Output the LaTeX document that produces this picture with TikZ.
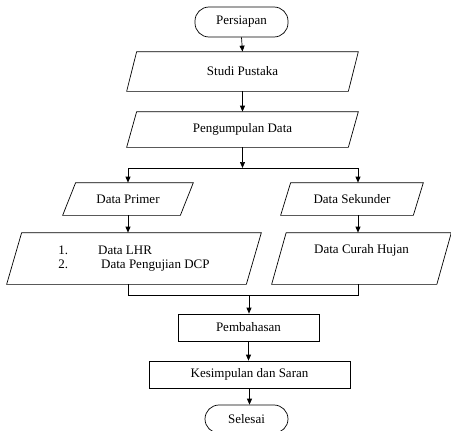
\documentclass[tikz,border=0pt]{standalone}
\usepackage{fontspec}
\setmainfont{Liberation Serif}
\usetikzlibrary{arrows.meta,calc}
\begin{document}
\begin{tikzpicture}[x=1pt,y=-1pt,
  line width=0.7pt,
  every node/.style={font=\fontsize{13}{15}\selectfont, inner sep=0pt},
  arr/.style={-{Triangle[length=6pt,width=5pt]}},
  term/.style={draw, rounded corners=14pt},
  rbox/.style={draw},
  pbox/.style={}]
\useasboundingbox (0,0) rectangle (451,431);
\node[term, minimum width=93pt, minimum height=30pt] (pers) at (241.5,22) {Persiapan};
\node[pbox, minimum width=231pt, minimum height=39pt] (sp) at (242.5,71.5) {Studi Pustaka};
\node[pbox, minimum width=231pt, minimum height=35pt] (pd) at (242.5,129.5) {Pengumpulan Data};
\node[pbox, minimum width=130pt, minimum height=32pt] (dp) at (128,199) {Data Primer};
\node[pbox, minimum width=142pt, minimum height=32pt] (ds) at (352,199) {Data Sekunder};
\node[pbox, minimum width=254pt, minimum height=51pt] (lhr) at (134,258.5)
  {\begin{tabular}{@{}l@{\hspace{30pt}}l@{}}1. & Data LHR\\[-1pt] 2. & \hspace{3pt}Data Pengujian DCP\end{tabular}};
\node[pbox, minimum width=179pt, minimum height=51pt, align=center] (ch) at (361.5,258.5) {Data Curah Hujan\\\strut};
\node[rbox, minimum width=141pt, minimum height=27pt] (pb) at (248.5,327.5) {Pembahasan};
\node[rbox, minimum width=201pt, minimum height=27pt] (ks) at (249.5,374.5) {Kesimpulan dan Saran};
\node[term, minimum width=83pt, minimum height=28pt] (sl) at (246.5,419) {Selesai};
% parallelograms
\foreach \n/\s in {sp/10,pd/10,dp/13,ds/10,lhr/15,ch/14.5}
  \draw ([xshift=\s]\n.north west) -- (\n.north east) -- ([xshift=-\s]\n.south east) -- (\n.south west) -- cycle;
% coordinates
\coordinate (jt) at (242.5,168);
\coordinate (jl) at (128,168);
\coordinate (jr) at (358,168);
\coordinate (bl) at (128,295);
\coordinate (br) at (358,295);
\coordinate (bm) at (249,295);
% connectors
\draw[arr] (pers.south) -- (sp.north);
\draw[arr] (sp.south) -- (pd.north);
\draw[arr] (pd.south) -- (jt);
\draw (jl) -- (jr);
\draw[arr] (jl) -- (jl |- dp.north);
\draw[arr] (jr) -- (jr |- ds.north);
\draw[arr] (jl |- dp.south) -- (jl |- lhr.north);
\draw[arr] (jr |- ds.south) -- (jr |- ch.north);
\draw (bl |- lhr.south) -- (bl) -- (br) -- (br |- ch.south);
\draw[arr] (bm) -- (bm |- pb.north);
\draw[arr] (pb.south) -- (pb.south |- ks.north);
\draw[arr] (ks.south) -- (ks.south |- sl.north);
\end{tikzpicture}
\end{document}
